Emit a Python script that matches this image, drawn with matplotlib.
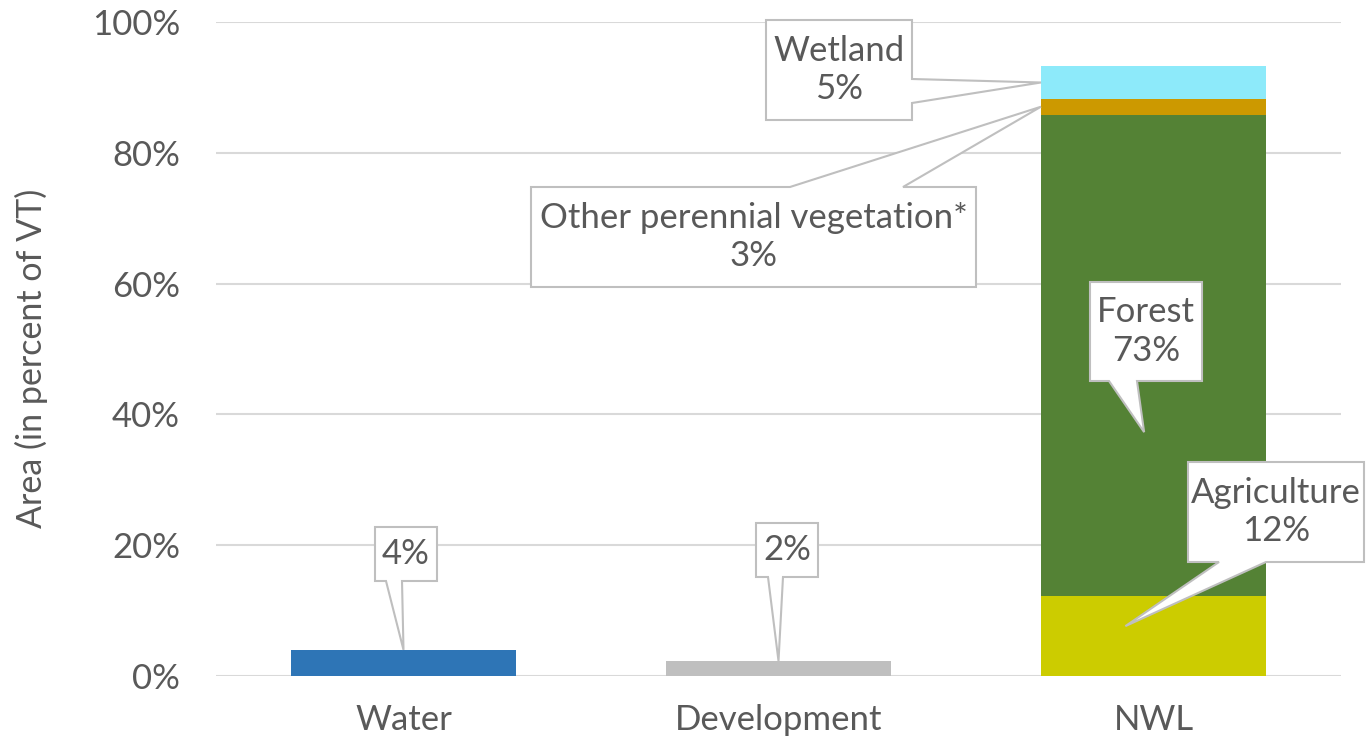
import matplotlib.pyplot as plt
from matplotlib.patches import Polygon
from matplotlib.transforms import IdentityTransform
import numpy as np

plt.rcParams['font.family'] = ['Lato', 'DejaVu Sans']

# data (percent of VT)
categories = ['Water', 'Development', 'NWL']
water = 4.0
development = 2.3
nwl_names = ['Agriculture', 'Forest', 'Other perennial vegetation*', 'Wetland']
nwl_values = [12.3, 73.5, 2.5, 4.9]
nwl_colors = ['#CCCC00', '#548235', '#CC9900', '#8DEAFA']
yticks = [0, 20, 40, 60, 80, 100]

txt = '#595959'
grid = '#D9D9D9'
fs = 25
W, H = 1366, 742

fig = plt.figure(figsize=(W / 100, H / 100), dpi=100)
ax = fig.add_axes([216 / W, 1 - 676 / H, 1125 / W, 654 / H])

ax.bar(0, water, width=0.6, color='#2E75B6', zorder=2)
ax.bar(1, development, width=0.6, color='#BFBFBF', zorder=2)
bottom = 0
for v, c in zip(nwl_values, nwl_colors):
    ax.bar(2, v, bottom=bottom, width=0.6, color=c, zorder=2)
    bottom += v

ax.set_xlim(-0.5, 2.5)
ax.set_ylim(0, 100)
ax.set_yticks(yticks)
ax.set_yticklabels([f'{t}%' for t in yticks])
ax.set_xticks(range(3))
ax.set_xticklabels(categories)
ax.tick_params(length=0, labelsize=fs, colors=txt)
ax.tick_params(axis='y', pad=26)
ax.tick_params(axis='x', pad=20)
ax.grid(axis='y', color=grid, lw=1.5, zorder=0)
for s in ax.spines.values():
    s.set_visible(False)
ax.set_ylabel('Area (in percent of VT)', fontsize=24.5, color=txt)
ax.yaxis.set_label_coords(-0.149, 0.486)


def to_px(x, y):
    dx, dy = ax.transData.transform((x, y))
    return dx, H - dy


def callout(text, box, side, base, tip):
    # box = (left, top, right, bottom) in pixels, y down
    l, t, r, b = box
    if side == 'bottom':
        pts = [(l, t), (r, t), (r, b), (base[1], b), tip, (base[0], b), (l, b)]
    elif side == 'top':
        pts = [(l, t), (base[0], t), tip, (base[1], t), (r, t), (r, b), (l, b)]
    else:  # right
        pts = [(l, t), (r, t), (r, base[0]), tip, (r, base[1]), (r, b), (l, b)]
    pts = [(px, H - py) for px, py in pts]
    fig.add_artist(Polygon(pts, closed=True, transform=IdentityTransform(),
                           fc='white', ec='#BFBFBF', lw=1.5, zorder=5))
    fig.text((l + r) / 2 / W, 1 - (t + b) / 2 / H, text, ha='center', va='center',
             fontsize=fs, color=txt, linespacing=1.25, zorder=6)


cum = np.cumsum([0] + nwl_values)
callout('4%', (375, 527, 437, 581), 'bottom', (386, 402), to_px(0, water))
callout('2%', (756, 523, 818, 577), 'bottom', (768, 783), to_px(1, development))
callout('Wetland\n5%', (766, 20, 912, 120), 'right', (79, 103),
        to_px(1.7, (cum[3] + cum[4]) / 2))
callout('Other perennial vegetation*\n3%', (531, 187, 976, 287), 'top', (790, 903),
        to_px(1.7, (cum[2] + cum[3]) / 2))
callout('Forest\n73%', (1090, 282, 1202, 381), 'bottom', (1109, 1137),
        to_px(1.975, cum[1] + 0.34 * nwl_values[1]))
callout('Agriculture\n12%', (1188, 462, 1364, 562), 'bottom', (1219, 1266),
        to_px(1.925, 0.62 * nwl_values[0]))

fig.savefig('out.png', dpi=100)
